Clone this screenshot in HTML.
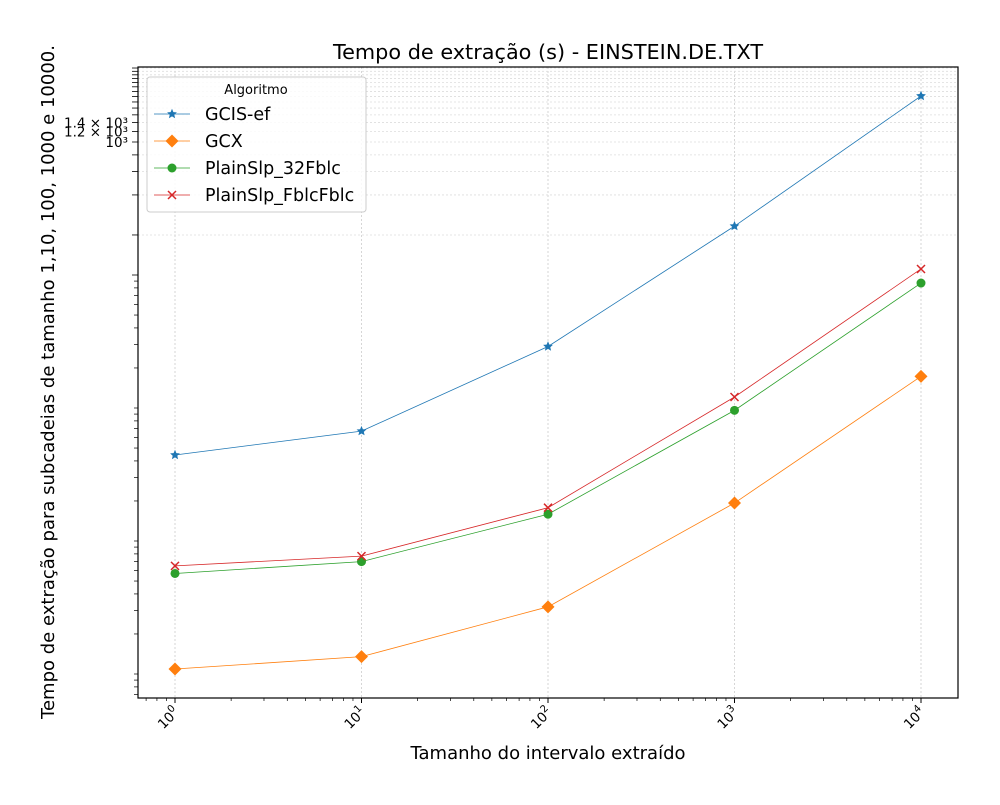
<!DOCTYPE html>
<html><head><meta charset="utf-8"><style>
body{margin:0;background:#fff;}
svg text{font-family:"DejaVu Sans","Liberation Sans",sans-serif;}
</style></head><body>
<svg id="chart" width="1000" height="800" viewBox="0 0 1000 800" xmlns="http://www.w3.org/2000/svg">
<rect width="1000" height="800" fill="#fff"/>
<g id="grid"></g>
<g id="ticks"></g>
<g id="series"></g>
<rect x="138" y="67" width="820" height="631" fill="none" stroke="#000" stroke-width="1.2"/>
<text x="548" y="59" font-size="20.8" text-anchor="middle">Tempo de extração (s) - EINSTEIN.DE.TXT</text>
<text x="548" y="759" font-size="18" text-anchor="middle">Tamanho do intervalo extraído</text>
<text transform="translate(54,382) rotate(-90)" font-size="18" text-anchor="middle">Tempo de extração para subcadeias de tamanho 1,10, 100, 1000 e 10000.</text>
<g id="legend">
<rect x="147" y="77" width="219" height="135" rx="3" fill="#fff" fill-opacity="0.85" stroke="#ccc"/>
<text x="256" y="94" font-size="13" text-anchor="middle">Algoritmo</text>
</g>
</svg>
<script>
const categories=[1,10,100,1000,10000];
const seriesNames=["GCIS-ef","GCX","PlainSlp_32Fblc","PlainSlp_FblcFblc"];
const gcisEf=[4.43,6.7,29,233,2218];
const gcx=[0.109,0.135,0.32,1.93,17.3];
const plain32=[0.57,0.70,1.59,9.6,87];
const plainFblc=[0.65,0.77,1.78,12.1,111];
const yLabels=["10³","1.2 × 10³","1.4 × 10³"];
const yLabelValues=[1000,1200,1400];
const xLabels=["0","1","2","3","4"];
const NS="http://www.w3.org/2000/svg";
const X=v=>175+186.5*Math.log10(v);
const Y=v=>142-133*(Math.log10(v)-3);
function el(t,a,p){const e=document.createElementNS(NS,t);for(const k in a)e.setAttribute(k,a[k]);p.appendChild(e);return e;}
const grid=document.getElementById('grid'),ticks=document.getElementById('ticks'),ser=document.getElementById('series');
categories.forEach((c,i)=>{
 const x=X(c);
 const g=el('line',{x1:x,x2:x,y1:67,y2:698,stroke:'#ccc','stroke-dasharray':'2,2','stroke-width':0.8},grid);
 
 
 el('line',{x1:x,x2:x,y1:698,y2:703,stroke:'#000'},ticks);
 const t=el('text',{transform:`translate(${x+5},${713}) rotate(-45)`,'font-size':13.5,'text-anchor':'end'},ticks);
 
 
 t.textContent='10';
 const s=el('tspan',{'font-size':10,dy:-6},t);s.textContent=xLabels[i];
});
for(let n=-1;n<5;n++)for(let k=2;k<10;k++){const v=k*Math.pow(10,n);const x=X(v);if(x>138&&x<958)el('line',{x1:x,x2:x,y1:698,y2:701,stroke:'#000','stroke-width':0.7},ticks);}
for(let n=-2;n<2;n++)for(let k=1;k<10;k++){const v=k*Math.pow(10,n);const y=Y(v);if(y<698&&y>67)el('line',{x1:134,x2:138,y1:y,y2:y,stroke:'#000','stroke-width':0.7},ticks);}
for(let v=100;v<3700;v+=(v<200?100:200)){const y=Y(v);if(y<67)break;
 el('line',{x1:132,x2:138,y1:y,y2:y,stroke:'#000','stroke-width':0.8},ticks);
 if(v>=200){const g=el('line',{x1:138,x2:958,y1:y,y2:y,stroke:'#ddd','stroke-dasharray':'2,2','stroke-width':0.8},grid);
 
 }
}
yLabelValues.forEach((v,i)=>{const t=el('text',{x:128,y:Y(v)+5,'font-size':13.5,'text-anchor':'end'},ticks);
 
 
 t.textContent=yLabels[i];});
const colors=["#1f77b4","#ff7f0e","#2ca02c","#d62728"];
const markers=["star","diamond","circle","x"];
function marker(type,x,y,c,p){
 if(type==='star'){let pts=[];for(let i=0;i<10;i++){const r=i%2?2.4:5.2;const a=-Math.PI/2+i*Math.PI/5;pts.push((x+r*Math.cos(a)).toFixed(1)+','+(y+r*Math.sin(a)).toFixed(1));}return el('polygon',{points:pts.join(' '),fill:c},p);}
 if(type==='diamond')return el('polygon',{points:`${x},${y-6.5} ${x+6.5},${y} ${x},${y+6.5} ${x-6.5},${y}`,fill:c},p);
 if(type==='circle')return el('circle',{cx:x,cy:y,r:4.5,fill:c},p);
 return el('path',{d:`M${x-4},${y-4}L${x+4},${y+4}M${x-4},${y+4}L${x+4},${y-4}`,stroke:c,'stroke-width':1.5},p);
}
[gcisEf,gcx,plain32,plainFblc].forEach((vals,si)=>{
 const g=el('g',{},ser);
 
 
 el('polyline',{points:vals.map((v,i)=>X(categories[i])+','+Y(v)).join(' '),fill:'none',stroke:colors[si],'stroke-width':0.8},g);
 vals.forEach((v,i)=>{const m=marker(markers[si],X(categories[i]),Y(v),colors[si],g);
  
  });
});
const lg=document.getElementById('legend');
seriesNames.forEach((n,i)=>{const y=114+27*i;
 const g=el('g',{},lg);
 
 
 el('line',{x1:154,x2:190,y1:y,y2:y,stroke:colors[i],'stroke-width':0.8},g);
 marker(markers[i],172,y,colors[i],g);
 const t=el('text',{x:205,y:y+6,'font-size':17.5},g);t.textContent=n;});
</script>
</body></html>
